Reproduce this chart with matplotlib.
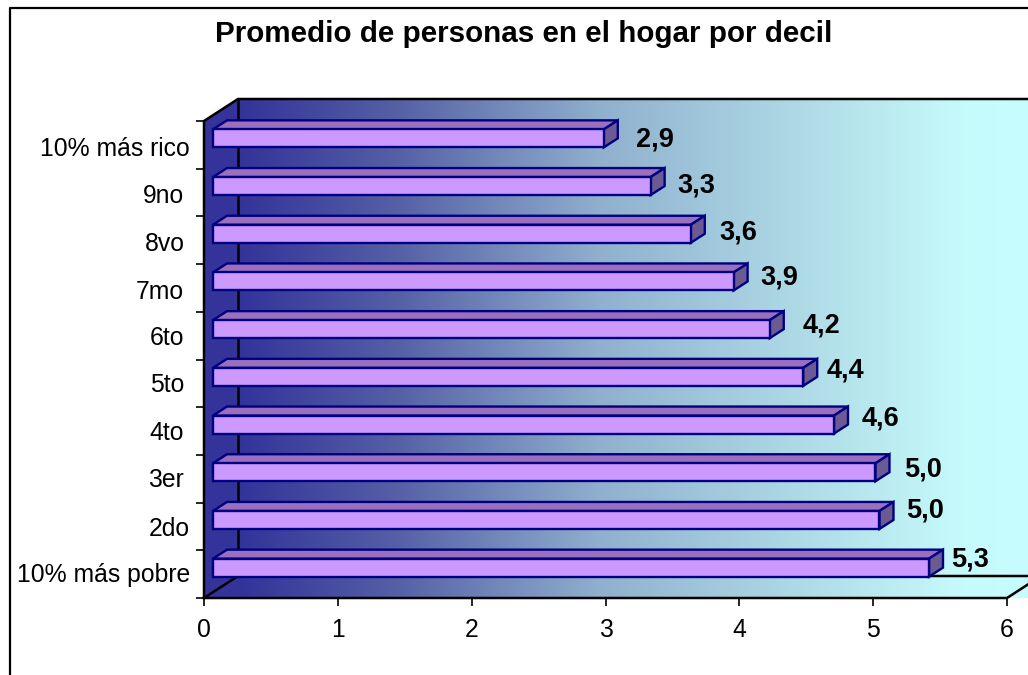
import numpy as np
import matplotlib
matplotlib.use('Agg')
import matplotlib.pyplot as plt
from matplotlib.colors import LinearSegmentedColormap
from matplotlib.patches import Polygon, PathPatch
from matplotlib.path import Path

plt.rcParams['font.family'] = ['Liberation Sans', 'DejaVu Sans']

# categories bottom to top
categorias = ['10% más pobre', '2do', '3er', '4to', '5to', '6to', '7mo', '8vo', '9no', '10% más rico']
valores = [5.35, 4.98, 4.95, 4.64, 4.41, 4.16, 3.89, 3.57, 3.27, 2.92]
etiquetas = ['5,3', '5,0', '5,0', '4,6', '4,4', '4,2', '3,9', '3,6', '3,3', '2,9']
ticks_x = [0, 1, 2, 3, 4, 5, 6]

# label nudges in pixels
nudge_x = [22, 27, 29, 28, 23, 33, 27, 29, 27, 32]
nudge_y = [8, 9, 3, 6, 6, 4, 4, 1, 1, -1]
cat_right = [190, 190, 184, 184, 184, 184, 184, 185, 184, 190]
cat_y = [-1, -3, -1, -2, -2, -2, -4, -4, -3, -4]

W, H = 1028, 675
fig = plt.figure(figsize=(W / 100, H / 100), dpi=100)
fig.patch.set_facecolor('white')

# axes = front plane of the 3d box
x0, x6, y0, y10 = 204, 1007, 598, 121
ax = fig.add_axes([x0 / W, 1 - y0 / H, (x6 - x0) / W, (y0 - y10) / H])
ax.patch.set_visible(False)
ux = (x6 - x0) / 6
uy = (y0 - y10) / 10

# box depth in data units
box_dx = 34 / ux
box_dy = 22 / uy
right = (W - x0 + 2) / ux

# gradient wall + floor
cmap = LinearSegmentedColormap.from_list(
    'fondo', [(0, '#333399'), (0.2, '#5560A5'), (0.457, '#90B0CE'), (0.71, '#AEDAE6'),
              (0.836, '#BDEEF2'), (0.92, '#C6FBFC'), (1, '#C8FDFF')])
grad = np.linspace(0, 1, 512).reshape(1, -1)
im = ax.imshow(grad, extent=[box_dx, right, -0.1, 10 + box_dy], aspect='auto', cmap=cmap, zorder=1)
ax.set_xlim(0, 6)
ax.set_ylim(0, 10)
outline = Path([(0, 0), (box_dx, box_dy), (box_dx, 10 + box_dy), (right, 10 + box_dy),
                (right, 0), (0, 0)])
clip = PathPatch(outline, transform=ax.transData, fc='none', ec='none')
ax.add_patch(clip)
clip.set_clip_on(False)
im.set_clip_box(fig.bbox)
im.set_clip_path(clip)

# left wall and floor left part
ax.add_patch(Polygon([(0, 0), (box_dx, box_dy), (box_dx, 10 + box_dy), (0, 10)], closed=True,
                     fc='#333399', ec='none', zorder=2, clip_on=False))
ax.add_patch(Polygon([(0, 0), (box_dx, box_dy), (box_dx, 0)], closed=True,
                     fc='#333399', ec='none', zorder=2, clip_on=False))

# box edges
negro = dict(color='black', lw=1.8, zorder=3, clip_on=False, solid_capstyle='projecting')
ax.plot([0, 0, box_dx, right], [0, 10, 10 + box_dy, 10 + box_dy], **negro)
ax.plot([box_dx, box_dx], [box_dy, 10 + box_dy], **negro)
ax.plot([0, box_dx, right], [0, box_dy, box_dy], **negro)
ax.plot([0, 6, 6 + box_dx], [0, 0, box_dy], **negro)

# bars
y_pos = np.arange(len(valores)) + 0.5 + 6.5 / uy
bar_left = 9 / ux
bar_h = 18 / uy
bar_dx = 14 / ux
bar_dy = 9 / uy
azul = '#000080'
ax.barh(y_pos, valores, left=bar_left, height=bar_h, color='#CC99FF', edgecolor=azul,
        linewidth=1.7, zorder=5, clip_on=False)
for yy, v in zip(y_pos, valores):
    xe = bar_left + v
    top = yy + bar_h / 2
    bot = yy - bar_h / 2
    ax.add_patch(Polygon([(bar_left, top), (bar_left + bar_dx, top + bar_dy),
                          (xe + bar_dx, top + bar_dy), (xe, top)], closed=True,
                         fc='#9A70BE', ec=azul, lw=1.7, zorder=4, clip_on=False))
    ax.add_patch(Polygon([(xe, top), (xe + bar_dx, top + bar_dy),
                          (xe + bar_dx, bot + bar_dy), (xe, bot)], closed=True,
                         fc='#6C5A92', ec=azul, lw=1.7, zorder=4, clip_on=False))

# value labels
for yy, v, txt, nx, ny in zip(y_pos, valores, etiquetas, nudge_x, nudge_y):
    ax.annotate(txt, (bar_left + v, yy), xytext=(nx, ny), textcoords='offset pixels',
                ha='left', va='center', fontsize=19.5, fontweight='bold', color='black',
                zorder=6, annotation_clip=False)

# axes ticks
for s in ax.spines.values():
    s.set_visible(False)
ax.set_xticks(ticks_x)
ax.set_xticklabels([str(t) for t in ticks_x], fontsize=17.8)
ax.tick_params(axis='x', length=6, width=1.2, pad=8.5, color='black')
ax.set_yticks(np.arange(0, 11))
ax.set_yticklabels([])
ax.tick_params(axis='y', length=6, width=1.2, color='black')

# category labels, right edges don't line up in the original
for i, (c, px, py) in enumerate(zip(categorias, cat_right, cat_y)):
    ax.annotate(c, (0, i + 0.5), xytext=(px - x0, py), textcoords='offset pixels', ha='right',
                va='center', fontsize=17.8, annotation_clip=False)

# title and frame
fig.text(524 / W, 1 - 34 / H, 'Promedio de personas en el hogar por decil', ha='center', va='center',
         fontsize=21.3, fontweight='bold')
fig.add_artist(plt.Line2D([9.5 / W, 9.5 / W, 1], [0, 1 - 7.5 / H, 1 - 7.5 / H], color='black', lw=1.6))

fig.savefig('out.png', dpi=100)
